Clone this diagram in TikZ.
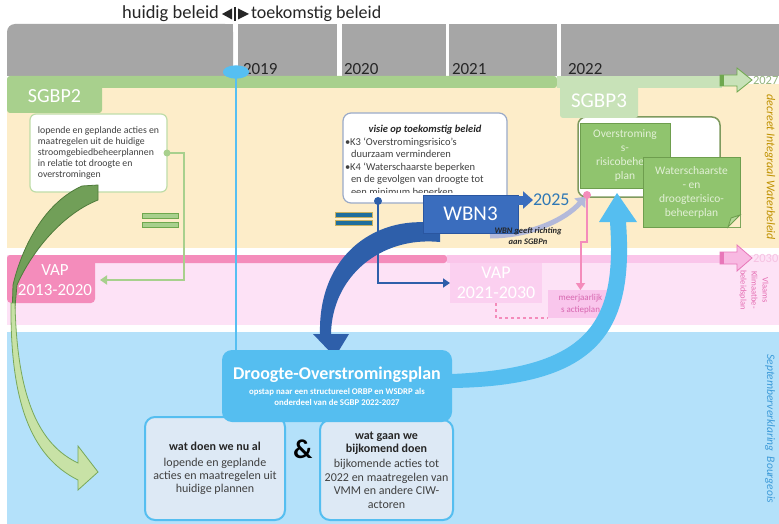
\documentclass[tikz,border=0pt]{standalone}
\usepackage{fontspec}
\setmainfont{Carlito}
\usetikzlibrary{arrows.meta,shapes.geometric}

\definecolor{graybar}{HTML}{A6A6A6}
\definecolor{beige}{HTML}{FDEDC9}
\definecolor{pinkbg}{HTML}{FDE2F6}
\definecolor{pinkdark}{HTML}{F48CBB}
\definecolor{pinklight}{HTML}{FAC5EA}
\definecolor{bluebg}{HTML}{B4E1FA}
\definecolor{sgbpgreen}{HTML}{A8D08D}
\definecolor{sgbplight}{HTML}{C8E2B8}
\definecolor{arrgreen}{HTML}{6FA84E}
\definecolor{yeargreen}{HTML}{94B47E}
\definecolor{dgreen}{HTML}{719F58}
\definecolor{dgreenedge}{HTML}{4F7B3B}
\definecolor{lgreen}{HTML}{C8E2A6}
\definecolor{lgreenedge}{HTML}{78A85A}
\definecolor{notegreen}{HTML}{90C46E}
\definecolor{notedraw}{HTML}{6E9E4E}
\definecolor{notetext}{HTML}{E2F0D6}
\definecolor{foldgreen}{HTML}{B5D99A}
\definecolor{sgbpedge}{HTML}{7E9A5E}
\definecolor{lopborder}{HTML}{BFDDA8}
\definecolor{txtdark}{HTML}{262626}
\definecolor{txtgray}{HTML}{404040}
\definecolor{visieborder}{HTML}{9AAAC8}
\definecolor{darkblue}{HTML}{2E5FAA}
\definecolor{wbnblue}{HTML}{3A6DBE}
\definecolor{wbnedge}{HTML}{2A56A0}
\definecolor{wbngray}{HTML}{B3B9DA}
\definecolor{yrblue}{HTML}{2F78B5}
\definecolor{vaptwopink}{HTML}{FBD0F0}
\definecolor{mjpink}{HTML}{F9C6EC}
\definecolor{mjtext}{HTML}{D767B0}
\definecolor{tlblue}{HTML}{56BFF2}
\definecolor{skyblue}{HTML}{55BEF0}
\definecolor{boxblue}{HTML}{DDE9F5}
\definecolor{gold}{HTML}{C09100}
\definecolor{vkpink}{HTML}{E46CB2}
\definecolor{septblue}{HTML}{3E9BD9}
\definecolor{eqteal}{HTML}{1F6E9C}
\definecolor{eqedge}{HTML}{C8B060}
\definecolor{arrpink}{HTML}{E877B9}
\definecolor{arrpinkfill}{HTML}{F8B9E2}
\definecolor{yrpink}{HTML}{F6C2E2}

\tikzset{
  fsz/.style n args={2}{font=\fontsize{#1}{#2}\selectfont},
  rect/.style={anchor=north west, inner sep=0pt, outer sep=0pt},
  lbl/.style={inner sep=0pt, outer sep=0pt},
  lowbox/.style={rect, fill=boxblue, draw=skyblue, line width=2pt, rounded corners=10pt, align=center},
  note/.style={rect, fill=notegreen, draw=notedraw, line width=0.8pt, text=notetext, fsz={11.5}{14}, align=center},
  vlab/.style={rotate=-90, inner sep=0pt, outer sep=0pt},
  thinarr/.style={line width=2pt, -{Triangle[length=7pt,width=9pt]}},
}

\begin{document}
\begin{tikzpicture}[x=1pt,y=-1pt]
\useasboundingbox (0,0) rectangle (779,524);
\fill[white] (0,0) rectangle (779,524);

% header
\fill[graybar,rounded corners=8pt] (7,24) rectangle (233,76);
\fill[graybar] (20,24) rectangle (233,76);
\fill[graybar] (7,40) rectangle (233,76);
\fill[graybar] (238,24) rectangle (337,76);
\fill[graybar] (342,24) rectangle (446,76);
\fill[graybar] (449,24) rectangle (557,76);
\fill[graybar] (561,24) rectangle (779,76);

% bands
\fill[beige] (7,84) rectangle (779,248);
\fill[pinkbg] (7,255) rectangle (779,325);
\fill[pinkdark,rounded corners=3pt] (7,255) rectangle (447,263);
\fill[pinklight] (447,255) rectangle (722,263);
\fill[bluebg] (7,332) rectangle (779,524);

% SGBP bars
\fill[sgbpgreen,rounded corners=3pt] (7,76) rectangle (557,88);
\fill[sgbplight] (557,76) rectangle (722,88);
\node[rect, fill=sgbpgreen, rounded corners=3pt, minimum width=95pt, minimum height=33pt, text=white, fsz={20}{24}] (sgbp2) at (7,80) {SGBP2};

% right arrows
\draw[draw=arrgreen, fill=sgbplight, line width=0.8pt] (720,75)--(737,75)--(737,68)--(752,80)--(737,92)--(737,86)--(720,86)--cycle;
\fill[arrgreen] (720,75) rectangle (724,86);
\node[lbl, anchor=west, text=yeargreen, fsz={12.5}{15}] (y2027) at (753,80) {2027};
\draw[draw=arrpink, fill=arrpinkfill, line width=0.8pt] (720,252)--(737,252)--(737,245)--(752,258)--(737,271)--(737,264)--(720,264)--cycle;
\fill[arrpink] (720,252) rectangle (724,264);
\node[lbl, anchor=west, text=yrpink, fsz={12.5}{15}] (y2030) at (753,258) {2030};

% right vertical labels
\node[vlab, text=gold, fsz={12}{14}] (decreet) at (770,167) {\itshape decreet Integraal Waterbeleid};
\node[vlab, text=vkpink, fsz={8.5}{11}, align=center] (vkb) at (754,290) {Vlaams\\Klimaatbe-\\beleidsplan};
\node[vlab, text=septblue, fsz={11.5}{13}] (sept) at (770,429) {\itshape Septemberverklaring\ \ Bourgeois};

% years
\node[lbl, anchor=west, fsz={17}{20}, text=txtdark] (y2019) at (243,69) {2019};
\node[lbl, anchor=west, fsz={17}{20}, text=txtdark] (y2020) at (344,69) {2020};
\node[lbl, anchor=west, fsz={17}{20}, text=txtdark] (y2021) at (452,69) {2021};
\node[lbl, anchor=west, fsz={17}{20}, text=txtdark] (y2022) at (568,69) {2022};

% title
\node[lbl, anchor=east, fsz={18.5}{21}, text=txtdark] (huidig) at (219,14) {huidig beleid};
\fill[txtdark] (222,14) -- (232,8.5) -- (232,19.5) -- cycle;
\draw[txtdark, line width=1.3pt] (235,7) -- (235,21);
\fill[txtdark] (238,8.5) -- (249,14) -- (238,19.5) -- cycle;
\node[lbl, anchor=west, fsz={18}{21}, text=txtdark] (toek) at (251,14) {toekomstig beleid};

% lopende box
\node[rect, fill=white, draw=lopborder, line width=1.2pt, rounded corners=6pt, minimum width=137pt, minimum height=78pt, align=left, fsz={9.8}{11}, text=txtgray, inner xsep=5pt] (lop) at (30,114) {lopende en geplande acties en\\maatregelen uit de huidige\\stroomgebiedbeheerplannen\\in relatie tot droogte en\\overstromingen};

% VAP 2013-2020
\node[rect, fill=pinkdark, rounded corners=4pt, minimum width=88pt, minimum height=46pt, text=white, fsz={17}{20}, align=center] (vap1) at (7,257) {\hspace*{8pt}VAP\\\hspace*{8pt}2013-2020};

% green connector
\draw[sgbpgreen, thinarr] (lop.east) -- ++(17,0) |- ([xshift=5pt]vap1.east);
\fill[sgbpgreen] (lop.east) circle (3.5pt);

% equal signs
\filldraw[fill=sgbpgreen, draw=arrgreen, line width=0.6pt] (142,213) rectangle (178,218) (142,222) rectangle (178,227);
\filldraw[fill=eqteal, draw=eqedge, line width=0.6pt] (335,212) rectangle (372,217) (335,220) rectangle (372,225);

% green curved shapes
\filldraw[fill=dgreen, draw=dgreenedge, line width=0.8pt] (98,185) -- (98,200) .. controls (60,215) and (30,255) .. (17,285) -- (14,318) -- (12,318) -- (13,285) .. controls (20,255) and (40,205) .. (82,186) -- cycle;
\filldraw[fill=lgreen, draw=lgreenedge, line width=0.8pt] (15,303) .. controls (17,400) and (40,445) .. (78,463) -- (78,446) -- (98,472) -- (78,490) -- (78,480) .. controls (30,456) and (10,400) .. (11,303) -- cycle;

% pink area boxes
\node[rect, fill=vaptwopink, minimum width=92pt, minimum height=40pt, text=white, fsz={18}{20}, align=center] (vap2) at (450,263) {VAP\\2021-2030};
\node[rect, fill=mjpink, minimum width=65pt, minimum height=28pt, text=mjtext, fsz={9}{12.5}, align=center] (mjap) at (548,290) {meerjaarlijk\\s actieplan};
\draw[pinkdark, line width=1.2pt, dashed] (vap2.south) |- (mjap.south west);

% visie box
\node[rect, fill=white, draw=visieborder, line width=1.2pt, rounded corners=8pt, minimum width=164pt, minimum height=90pt] (visie) at (343,113) {};
\node[lbl, fsz={10.5}{12.4}, text=txtdark] (vtitle) at (425,130) {\bfseries\itshape visie op toekomstig beleid};
\begin{scope}
\clip (343,113) rectangle (507,192);
\node[lbl, anchor=north west, align=left, fsz={10.5}{12.4}, text=txtgray] (vtext) at (345,138) {\textbullet K3 `Overstromingsrisico's\\\hspace*{6pt}duurzaam verminderen\\\textbullet K4 `Waterschaarste beperken\\\hspace*{6pt}en de gevolgen van droogte tot\\\hspace*{6pt}een minimum beperken};
\end{scope}

% SGBP3 box and plans
\node[rect, fill=white, draw=sgbpedge, line width=1.5pt, rounded corners=8pt, minimum width=142pt, minimum height=80pt] (sgbp3box) at (578,117) {};
\node[rect, fill=sgbplight, rounded corners=3pt, minimum width=78pt, minimum height=34pt, text=white, fsz={21}{24}] (sgbp3) at (560,84) {SGBP3};
\node[note, minimum width=90pt, minimum height=65pt] (orbp) at (580,123) {Overstroming\\s-\\risicobeheer\\plan};
\node[note, minimum width=97pt, minimum height=70pt] (wsdrp) at (643,157) {Waterschaarste\\- en\\droogterisico-\\beheerplan};
\fill[beige] (wsdrp.south east) -- ++(-12,0) -- ++(12,-12) -- cycle;
\filldraw[fill=foldgreen, draw=notedraw, line width=0.8pt] (728,227) -- (731,218) -- (740,215) -- cycle;

% pink connector
\coordinate (pdot) at (587,195);
\draw[pinkdark, thinarr] (pdot) -- ++(0,47) -| (mjap.north);

% blue connector from visie
\coordinate (vdot) at (378,201);
\draw[darkblue, thinarr] (vdot) |- (vap2.west);
\fill[darkblue] (vdot) circle (4pt);

% WBN gray arc
\coordinate (wbnarc) at (490,236);
\draw[wbngray, line width=5pt, -{Triangle[length=9pt,width=14pt]}, shorten >=2pt] (wbnarc) .. controls (530,236) and (565,220) .. (pdot);
\fill[pinkdark] (pdot) circle (4pt);

% dark blue big arrow (WBN3 -> Droogte)
\fill[darkblue] (440,224) .. controls (380,213) and (318,252) .. (320,334) -- (313,334) -- (335,357) -- (349,334) -- (331,334) .. controls (332,277) and (380,236) .. (440,242) -- cycle;

% WBN3
\node[rect, fill=wbnblue, draw=wbnedge, line width=1pt, minimum width=95pt, minimum height=38pt, text=white, fsz={21}{24}] (wbn3) at (423,195) {WBN3};
\node[lbl, align=center, fsz={8.5}{11}, text=txtdark] (wbntxt) at (528,236) {\bfseries\itshape WBN geeft richting\\\bfseries\itshape aan SGBPn};

% 2025
\coordinate (a25) at (510,200);
\node[lbl, anchor=west, text=yrblue, fsz={18}{20}] (n2025) at (533,200) {2025};
\draw[line width=9pt, wbnblue, -{Triangle[length=10pt,width=17pt]}] (a25) -- (n2025.west);

% light blue big arrow (Droogte -> SGBP3)
\fill[skyblue] (452,374) .. controls (590,368) and (617,322) .. (610,222) -- (599,222) -- (617,193) -- (637,222) -- (626,222) .. controls (634,330) and (600,386) .. (452,388) -- cycle;

% lower boxes
\node[lowbox, minimum width=140pt, minimum height=103pt, fsz={12}{12.8}, text=txtgray] (wdn) at (145,417) {\textbf{\color{txtdark}wat doen we nu al}\\[3pt]lopende en geplande\\acties en maatregelen uit\\huidige plannen};
\node[lowbox, minimum width=133pt, minimum height=100pt, fsz={12}{13.5}, text=txtgray] (wgw) at (320,420) {\textbf{\color{txtdark}wat gaan we}\\\textbf{\color{txtdark}bijkomend doen}\\[1.5pt]bijkomende acties tot\\2022 en maatregelen van\\VMM en andere CIW-\\actoren};
\node[lbl, fsz={27}{30}, text=black] (amp) at (303,449) {\bfseries\&};

% Droogte box
\node[rect, fill=skyblue, rounded corners=10pt, minimum width=230pt, minimum height=72pt, text=white, align=center, fsz={10}{11}] (droogte) at (222,350) {{\fontsize{18}{20}\selectfont\bfseries Droogte-Overstromingsplan}\\[4pt]{\fontsize{8.8}{10}\selectfont\bfseries opstap naar een structureel ORBP en WSDRP als}\\{\fontsize{8.8}{10}\selectfont\bfseries onderdeel van de SGBP 2022-2027}};

% timeline
\node[ellipse, fill=tlblue, minimum width=26pt, minimum height=13pt, inner sep=0pt] (ell) at (236,72) {};
\draw[tlblue, line width=2.5pt] (ell.center) -- (ell.center |- droogte.north);
\node[ellipse, fill=tlblue, minimum width=26pt, minimum height=13pt, inner sep=0pt] (ell2) at (236,72) {};

\end{tikzpicture}
\end{document}
